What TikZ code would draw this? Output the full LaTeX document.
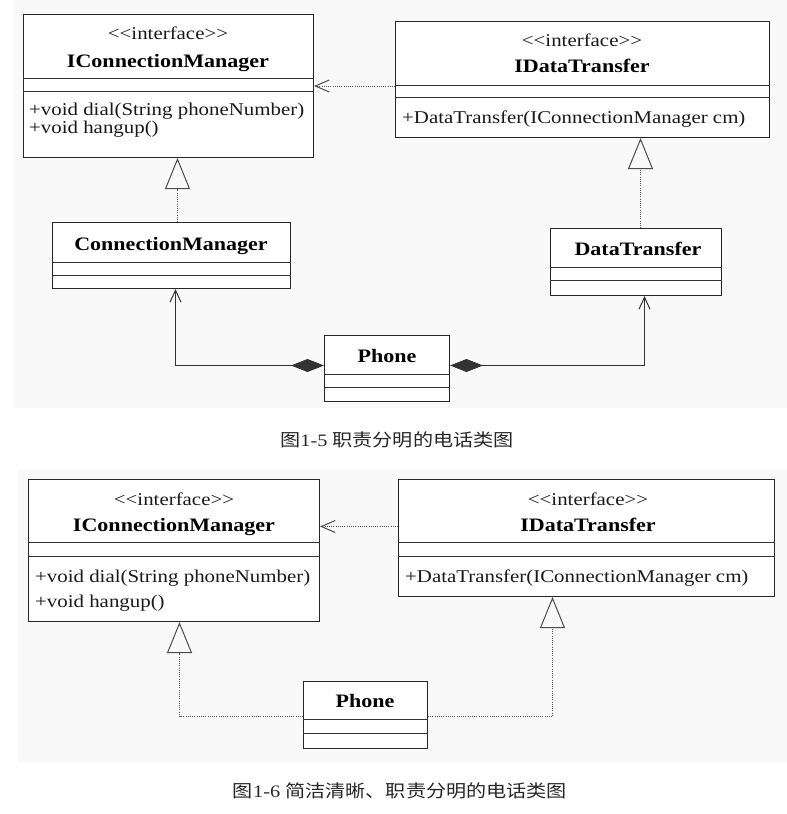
\documentclass[tikz,border=0pt]{standalone}
\usepackage{fontspec}
\setmainfont{Liberation Serif}[FakeStretch=1.16]
\newfontfamily\cjk{Noto Sans CJK SC}[FakeStretch=1.15]
\usetikzlibrary{arrows.meta,calc}
\newcommand\complines[3]{%
  \draw[cline] ($(#1.north west)+(0,#2)$) -- ($(#1.north east)+(0,#2)$);
  \draw[cline] ($(#1.north west)+(0,#3)$) -- ($(#1.north east)+(0,#3)$);}
\newcommand\stereo{<\kern0pt<interface>\kern0pt>}
\begin{document}
\begin{tikzpicture}[x=1pt,y=-1pt,
  classbox/.style={draw=black!85, line width=1pt, fill=white, inner sep=0pt, anchor=north west},
  cline/.style={draw=black!80, line width=1pt},
  txt/.style={font=\fontsize{18}{19}\selectfont, inner sep=0pt, anchor=base, text=black!90},
  ltxt/.style={txt, anchor=base west},
  btxt/.style={font=\fontsize{19}{20}\selectfont\bfseries, inner sep=0pt, anchor=base, text=black},
  captext/.style={font=\fontsize{17.5}{19}\selectfont, inner sep=0pt, anchor=base, text=black!85},
  dotline/.style={draw=black!70, line width=0.9pt, dash pattern=on 0.9pt off 1.3pt},
  realize/.style={dotline, -{Triangle[open, length=31pt, width=25pt, line width=1pt]}},
  depend/.style={dotline, -{Straight Barb[length=14pt, width=12pt, line width=1pt]}},
  compose/.style={draw=black!80, line width=1pt,
    {Diamond[length=33pt, width=13pt]}-{Straight Barb[length=12pt, width=11pt, line width=1pt]}}
]
\useasboundingbox (0,0) rectangle (787,814);
\fill[black!2.5] (13,0) rectangle (787,408);
\fill[black!2.5] (18,470) rectangle (787,762);

% ---------- Figure 1-5 ----------
\node[classbox, minimum width=290pt, minimum height=143pt] (icm1) at (23,14) {};
\complines{icm1}{64}{77}
\node[txt] (icm1s) at (168,39) {\stereo};
\node[btxt] (icm1n) at (168,67) {IConnectionManager};
\node[ltxt] (icm1a) at (29,115) {+void dial(String phoneNumber)};
\node[ltxt] (icm1b) at (29,133) {+void hangup()};

\node[classbox, minimum width=374pt, minimum height=116pt] (idt1) at (395,21) {};
\complines{idt1}{64}{76}
\node[txt] (idt1s) at (582,46) {\stereo};
\node[btxt] (idt1n) at (582,72) {IDataTransfer};
\node[ltxt] (idt1a) at (402,123) {+DataTransfer(IConnectionManager cm)};

\node[classbox, minimum width=238pt, minimum height=66pt] (cm1) at (52,222) {};
\complines{cm1}{40}{53}
\node[btxt] (cm1n) at (171,250) {ConnectionManager};

\node[classbox, minimum width=171pt, minimum height=67pt] (dt1) at (550,228) {};
\complines{dt1}{39}{52}
\node[btxt] (dt1n) at (638,255) {DataTransfer};

\node[classbox, minimum width=125pt, minimum height=66pt] (ph1) at (324,335) {};
\complines{ph1}{39}{52}
\node[btxt] (ph1n) at (387,362) {Phone};

\draw[depend] (icm1.east -| idt1.west) -- (icm1.east);
\draw[realize] ([xshift=6pt]cm1.north) -- ([xshift=6pt]cm1.north |- icm1.south);
\draw[realize] ([xshift=4.5pt]dt1.north) -- ([xshift=4.5pt]dt1.north |- idt1.south);
\draw[compose] ([yshift=3pt]ph1.west) -| ([xshift=4pt]cm1.south);
\draw[compose] ([yshift=3pt]ph1.east) -| ([xshift=8.5pt]dt1.south);

\node[captext] (cap1) at (397,446) {{\cjk 图}1-5 {\cjk 职责分明的电话类图}};

% ---------- Figure 1-6 ----------
\node[classbox, minimum width=291pt, minimum height=142pt] (icm2) at (28,479) {};
\complines{icm2}{63}{77}
\node[txt] (icm2s) at (174,505) {\stereo};
\node[btxt] (icm2n) at (174,531) {IConnectionManager};
\node[ltxt] (icm2a) at (35,582) {+void dial(String phoneNumber)};
\node[ltxt] (icm2b) at (35,607) {+void hangup()};

\node[classbox, minimum width=376pt, minimum height=117pt] (idt2) at (398,479) {};
\complines{idt2}{63}{77}
\node[txt] (idt2s) at (588,505) {\stereo};
\node[btxt] (idt2n) at (588,531) {IDataTransfer};
\node[ltxt] (idt2a) at (405,582) {+DataTransfer(IConnectionManager cm)};

\node[classbox, minimum width=124pt, minimum height=67pt] (ph2) at (303,681) {};
\complines{ph2}{38}{52}
\node[btxt] (ph2n) at (365,707) {Phone};

\coordinate (d2) at ([yshift=24pt]icm2.east);
\draw[depend] (d2 -| idt2.west) -- (d2);
\draw[realize] ([yshift=-1.5pt]ph2.west) -| ([xshift=5.5pt]icm2.south);
\draw[realize] ([yshift=-1.5pt]ph2.east) -| ([xshift=-34pt]idt2.south);

\node[captext] (cap2) at (400,797) {{\cjk 图}1-6 {\cjk 简洁清晰、职责分明的电话类图}};
\end{tikzpicture}
\end{document}
